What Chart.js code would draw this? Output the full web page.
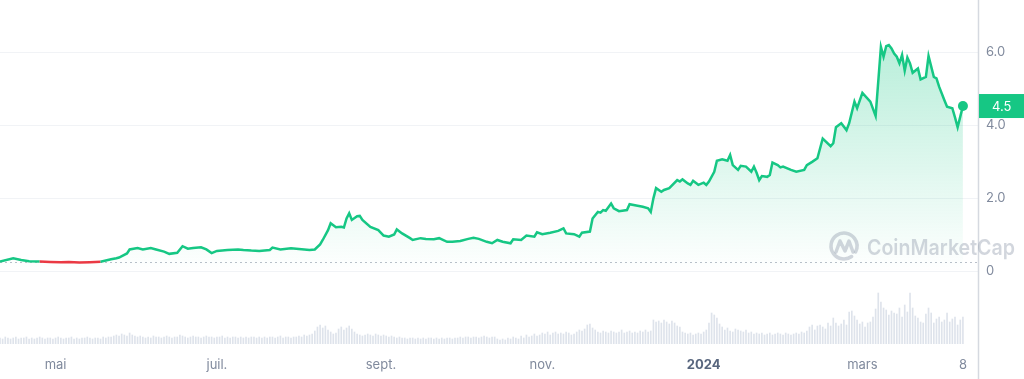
<!DOCTYPE html>
<html>
<head>
<meta charset="utf-8">
<script src="https://cdn.jsdelivr.net/npm/chart.js@4"></script>
<style>
  body { margin: 0; background: #fff; }
  canvas { display: block; }
</style>
</head>
<body>
<canvas id="priceChart" width="1024" height="379"></canvas>
<script>
// days since 10 Apr 2023
const priceDays = [0,5,8,11,15,19,23,26,30,34,38,42,44,45,48,49,52,54,57,59,62,64,67,69,71,73,76,78,80,82,86,90,92,95,98,102,103,106,110,113,117,119,121,122,124,125,127,129,130,131,132,133,135,136,137,140,143,145,147,149,150,152,155,156,159,161,164,166,169,171,174,177,179,181,184,186,188,190,193,194,197,199,202,203,205,208,211,213,214,217,219,220,223,224,226,227,228,229,231,232,234,237,238,241,243,245,246,247,248,250,251,253,256,257,258,260,261,262,264,266,267,268,270,271,273,275,276,277,279,280,282,284,285,286,287,288,290,291,292,294,295,296,299,301,304,305,307,309,311,314,315,316,318,320,321,323,324,326,329,331,333,334,335,336,337,338,339,340,341,342,343,344,345,347,348,350,351,353,354,355,357,358,360,361,362,363,364];
const prices = [0.26,0.35,0.30,0.27,0.262,0.25,0.24,0.245,0.23,0.24,0.255,0.32,0.35,0.37,0.48,0.59,0.63,0.59,0.63,0.59,0.53,0.47,0.50,0.68,0.61,0.63,0.65,0.59,0.49,0.55,0.575,0.59,0.575,0.56,0.55,0.575,0.64,0.59,0.62,0.60,0.575,0.59,0.73,0.85,1.12,1.31,1.20,1.21,1.19,1.44,1.58,1.40,1.50,1.51,1.40,1.21,1.12,0.97,0.94,1.00,1.14,1.03,0.90,0.85,0.90,0.88,0.87,0.90,0.80,0.80,0.82,0.88,0.91,0.88,0.80,0.76,0.85,0.80,0.76,0.87,0.85,0.97,0.94,1.06,1.01,1.05,1.10,1.17,1.03,1.01,0.94,1.05,1.08,1.44,1.62,1.60,1.67,1.65,1.85,1.72,1.64,1.67,1.83,1.79,1.76,1.72,1.62,1.99,2.27,2.17,2.22,2.27,2.49,2.45,2.51,2.40,2.36,2.47,2.36,2.42,2.36,2.45,2.72,3.02,3.06,3.02,3.18,2.90,2.77,2.88,2.86,2.72,2.86,2.69,2.49,2.60,2.58,2.63,2.97,2.90,2.84,2.86,2.77,2.72,2.77,2.90,2.99,3.09,3.63,3.42,3.50,3.94,4.05,3.86,4.05,4.64,4.46,4.88,4.64,4.25,6.14,5.87,6.16,6.19,6.10,5.96,5.87,5.69,5.92,5.49,5.85,5.69,5.43,5.55,5.25,5.32,5.89,5.32,5.28,5.05,4.68,4.50,4.46,4.21,3.94,4.23,4.52];

// daily volume, one value per day from day 0
const volumes = [
  6,5,7,6,5,6,7,5,6,6,7,5,6,5,6,7,6,5,6,6,
  5,6,7,6,5,6,6,7,5,6,5,6,6,7,6,5,6,6,5,7,
  6,7,7,8,9,8,10,9,8,11,9,8,7,8,7,6,7,6,8,7,
  7,6,7,8,7,6,7,7,9,8,7,6,7,8,7,7,6,7,8,7,
  7,6,7,7,8,6,7,6,7,7,6,7,6,7,6,7,7,6,7,6,
  7,6,7,7,6,7,8,6,7,7,6,7,7,8,7,9,8,9,10,13,
  17,19,16,18,14,12,10,11,15,17,14,16,18,15,12,10,9,8,9,10,
  9,8,10,9,8,9,8,7,8,7,6,7,6,6,5,6,6,5,6,5,
  6,5,6,6,5,6,5,6,5,6,6,5,6,6,7,6,7,7,6,7,
  7,6,7,8,7,6,7,7,5,4,5,4,6,5,7,6,5,8,6,9,
  7,8,10,8,9,11,10,12,9,11,12,10,11,10,12,11,9,10,12,14,
  13,15,19,20,16,14,12,11,13,12,11,13,12,11,12,14,11,12,13,11,
  12,11,13,12,14,12,13,24,22,23,21,24,22,20,23,21,18,17,12,11,
  10,11,9,10,11,10,12,14,21,31,29,26,20,17,14,16,13,12,15,14,
  13,12,14,11,12,10,11,10,11,9,10,11,9,10,11,10,9,11,10,9,
  10,11,10,12,11,13,17,19,14,18,19,17,15,21,18,26,21,18,20,24,
  19,32,33,28,24,20,22,17,21,22,27,35,51,42,36,34,29,33,31,30,
  36,27,39,32,51,36,28,26,22,21,30,36,31,21,25,27,22,24,31,22,
  25,27,19,24,27
];

const tickDays = [21, 82, 144, 205, 266, 326, 364];
const tickLabels = ['mai', 'juil.', 'sept.', 'nov.', '2024', 'mars', '8'];
const priceTicks = [0, 2, 4, 6];
const openPrice = 0.26;

const green = '#16c784';
const red = '#ea3943';
const grey = '#808a9d';

Chart.defaults.font.family = 'Inter, "Noto Sans", sans-serif';

const pricePoints = priceDays.map((d, i) => ({ x: d, y: prices[i] }));
const volumePoints = volumes.map((v, i) => ({ x: i, y: v }));

const extras = {
  id: 'extras',
  beforeDatasetsDraw(chart) {
    const { ctx, chartArea, scales } = chart;
    const y = scales.y.getPixelForValue(openPrice);
    ctx.save();
    ctx.strokeStyle = 'rgba(128,138,157,0.55)';
    ctx.lineWidth = 1;
    ctx.setLineDash([2, 3]);
    ctx.beginPath();
    ctx.moveTo(chartArea.left, Math.round(y) + 0.5);
    ctx.lineTo(chartArea.right, Math.round(y) + 0.5);
    ctx.stroke();
    ctx.restore();
  },
  afterDraw(chart) {
    const { ctx, chartArea, scales } = chart;
    ctx.save();
    // axis line on the right, full height
    ctx.strokeStyle = '#d5d9e0';
    ctx.lineWidth = 1.5;
    ctx.beginPath();
    ctx.moveTo(chartArea.right + 0.5, 0);
    ctx.lineTo(chartArea.right + 0.5, chart.height);
    ctx.stroke();

    // watermark
    ctx.globalAlpha = 0.4;
    ctx.strokeStyle = '#8f99ab';
    ctx.fillStyle = '#8f99ab';
    ctx.lineWidth = 3.5;
    ctx.lineCap = 'round';
    ctx.lineJoin = 'round';
    ctx.beginPath();
    ctx.arc(844, 246, 13, 0.3 * Math.PI, 2.15 * Math.PI);
    ctx.stroke();
    ctx.beginPath();
    ctx.moveTo(836, 252);
    ctx.lineTo(840, 241);
    ctx.lineTo(845, 251);
    ctx.lineTo(849, 241);
    ctx.lineTo(853, 252);
    ctx.stroke();
    ctx.font = '600 22px Inter, sans-serif';
    ctx.textBaseline = 'alphabetic';
    ctx.textAlign = 'left';
    ctx.fillText('CoinMarketCap', 867, 255, 148);
    ctx.globalAlpha = 1;

    // current price tag
    const last = prices[prices.length - 1];
    const py = scales.y.getPixelForValue(last);
    ctx.fillStyle = green;
    ctx.fillRect(chartArea.right + 1, py - 12, chart.width - chartArea.right, 24);
    ctx.fillStyle = '#fff';
    ctx.font = '13px Inter, sans-serif';
    ctx.textBaseline = 'middle';
    ctx.fillText(last.toFixed(1), chartArea.right + 14, py + 1);
    ctx.restore();
  }
};

new Chart(document.getElementById('priceChart'), {
  type: 'line',
  data: {
    datasets: [{
      type: 'line',
      data: pricePoints,
      yAxisID: 'y',
      borderColor: green,
      borderWidth: 2.5,
      tension: 0,
      segment: {
        borderColor: c => (c.p0.parsed.y + c.p1.parsed.y) / 2 < openPrice ? red : green
      },
      fill: 'origin',
      backgroundColor: c => {
        const { chart } = c;
        if (!chart.chartArea) return 'rgba(22,199,132,0.1)';
        const ys = chart.scales.y;
        const g = chart.ctx.createLinearGradient(0, ys.getPixelForValue(6.2), 0, ys.getPixelForValue(0));
        g.addColorStop(0, 'rgba(22,199,132,0.3)');
        g.addColorStop(1, 'rgba(22,199,132,0)');
        return g;
      },
      pointRadius: c => c.dataIndex === prices.length - 1 ? 5 : 0,
      pointBackgroundColor: green,
      pointBorderWidth: 0,
      pointHoverRadius: 0,
      order: 1
    }, {
      type: 'bar',
      data: volumePoints,
      yAxisID: 'yv',
      backgroundColor: 'rgba(200,208,222,0.6)',
      barThickness: 1,
      order: 2
    }]
  },
  options: {
    responsive: false,
    animation: false,
    events: [],
    layout: { padding: 0, autoPadding: false },
    plugins: { legend: { display: false }, tooltip: { enabled: false } },
    scales: {
      x: {
        type: 'linear',
        min: 0,
        max: 369.7,
        offset: false,
        grid: { display: false, drawTicks: false },
        border: { display: false },
        afterBuildTicks: s => { s.ticks = tickDays.map(v => ({ value: v })); },
        afterFit: s => { s.height = 35; s.paddingLeft = 0; s.paddingRight = 0; },
        ticks: {
          autoSkip: false,
          maxRotation: 0,
          padding: 13,
          color: c => tickLabels[c.index] === '2024' ? '#58667e' : grey,
          font: c => ({ size: 13, weight: tickLabels[c.index] === '2024' ? 'bold' : 'normal' }),
          callback: (v, i) => tickLabels[i]
        }
      },
      y: {
        position: 'right',
        min: -2.0,
        max: 7.425,
        grid: { color: '#f1f3f6', drawTicks: false },
        border: { display: false },
        afterBuildTicks: s => { s.ticks = priceTicks.map(v => ({ value: v })); },
        afterFit: s => { s.width = 46; s.paddingTop = 0; s.paddingBottom = 0; },
        ticks: {
          padding: 8,
          color: grey,
          font: { size: 13 },
          callback: v => v === 0 ? '0' : v.toFixed(1)
        }
      },
      yv: {
        display: false,
        min: 0,
        max: 344
      }
    }
  },
  plugins: [extras]
});
</script>
</body>
</html>
